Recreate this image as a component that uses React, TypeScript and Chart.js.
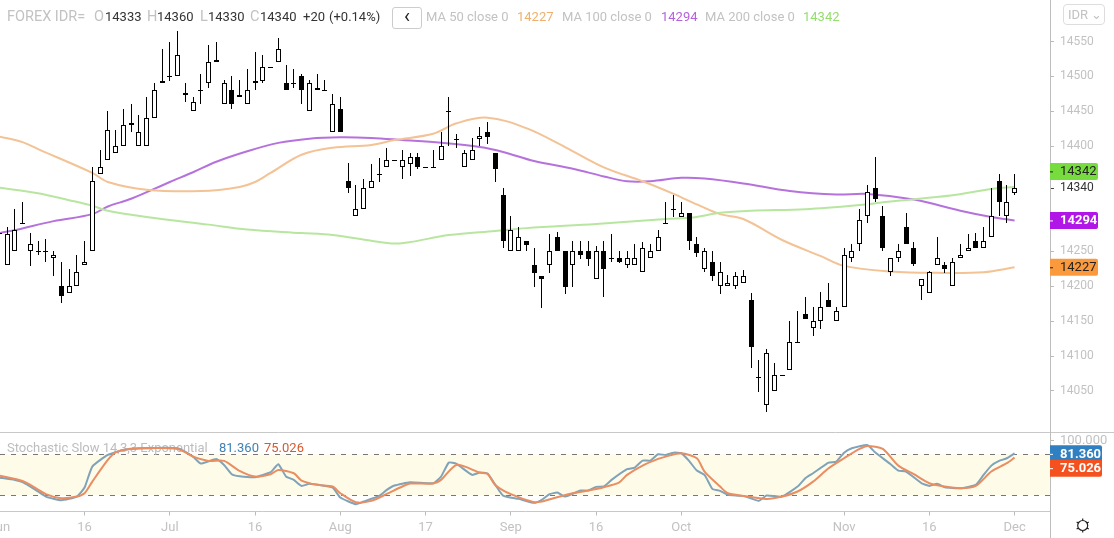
import React, { useEffect, useRef } from 'react';
import { Chart, registerables } from 'chart.js';

Chart.register(...registerables);

const FONT = 'Roboto, "Liberation Sans", sans-serif';
const GREY = '#c2c2c2';

// daily candles, index 0 = first bar of June
const opens = [
  14276, 14230, 14250, 14290, 14250, 14250, 14250, 14240, 14200, 14190, 14200, 14230,
  14250, 14360, 14380, 14390, 14400, 14430, 14400, 14400, 14440, 14490, 14500, 14500,
  14476, 14450, 14480, 14490, 14520, 14460, 14480, 14470, 14460, 14490, 14494, 14514,
  14520, 14490, 14490, 14500, 14450, 14480, 14480, 14420, 14454, 14350, 14300, 14310,
  14340, 14360, 14370, 14380, 14370, 14375, 14385, 14370, 14370, 14380, 14450, 14410,
  14370, 14380, 14410, 14420, 14390, 14330, 14250, 14250, 14264, 14230, 14214, 14230,
  14270, 14250, 14230, 14250, 14250, 14210, 14250, 14240, 14240, 14230, 14230, 14220,
  14240, 14250, 14290, 14310, 14299, 14304, 14260, 14224, 14234, 14200, 14200, 14200,
  14204, 14180, 14070, 14030, 14050, 14073, 14080, 14120, 14160, 14140, 14150, 14180,
  14150, 14170, 14240, 14260, 14300, 14340, 14300, 14220, 14240, 14284, 14254, 14200,
  14190, 14230, 14230, 14200, 14240, 14250, 14264, 14254, 14270, 14350, 14300, 14333,
];
const highs = [
  14277, 14284, 14310, 14320, 14276, 14265, 14267, 14250, 14235, 14225, 14245, 14265,
  14370, 14395, 14451, 14424, 14454, 14460, 14445, 14470, 14490, 14540, 14550, 14565,
  14490, 14470, 14504, 14545, 14549, 14495, 14500, 14495, 14510, 14535, 14530, 14514,
  14555, 14516, 14510, 14504, 14495, 14504, 14495, 14475, 14470, 14376, 14344, 14354,
  14375, 14384, 14397, 14380, 14395, 14390, 14390, 14370, 14395, 14420, 14470, 14417,
  14395, 14412, 14428, 14435, 14390, 14341, 14300, 14284, 14264, 14254, 14214, 14274,
  14277, 14250, 14264, 14264, 14264, 14257, 14264, 14274, 14250, 14250, 14260, 14263,
  14260, 14280, 14320, 14330, 14320, 14304, 14270, 14254, 14250, 14234, 14216, 14220,
  14223, 14190, 14094, 14110, 14090, 14073, 14150, 14164, 14184, 14170, 14191, 14204,
  14170, 14254, 14261, 14310, 14344, 14385, 14315, 14240, 14260, 14304, 14263, 14210,
  14221, 14270, 14234, 14240, 14260, 14274, 14276, 14284, 14340, 14360, 14344, 14360,
];
const lows = [
  14275, 14230, 14250, 14290, 14229, 14244, 14234, 14214, 14176, 14190, 14200, 14230,
  14250, 14360, 14380, 14390, 14400, 14420, 14400, 14400, 14440, 14490, 14494, 14500,
  14464, 14450, 14460, 14483, 14520, 14460, 14454, 14470, 14460, 14480, 14490, 14514,
  14520, 14480, 14483, 14460, 14450, 14480, 14480, 14420, 14420, 14333, 14300, 14310,
  14340, 14349, 14370, 14380, 14353, 14357, 14367, 14370, 14370, 14380, 14400, 14397,
  14370, 14380, 14400, 14403, 14349, 14254, 14250, 14250, 14250, 14199, 14169, 14219,
  14250, 14189, 14199, 14239, 14229, 14210, 14184, 14234, 14233, 14226, 14230, 14220,
  14240, 14250, 14290, 14299, 14299, 14252, 14241, 14220, 14208, 14189, 14200, 14196,
  14204, 14083, 14049, 14020, 14050, 14073, 14080, 14120, 14153, 14129, 14138, 14170,
  14150, 14170, 14234, 14250, 14290, 14320, 14250, 14214, 14235, 14260, 14229, 14180,
  14190, 14230, 14219, 14200, 14240, 14250, 14254, 14254, 14270, 14300, 14290, 14330,
];
const closes = [
  14276, 14274, 14280, 14290, 14260, 14250, 14250, 14244, 14186, 14200, 14220, 14234,
  14350, 14370, 14424, 14400, 14430, 14434, 14420, 14440, 14480, 14494, 14500, 14530,
  14474, 14464, 14480, 14520, 14524, 14490, 14461, 14474, 14480, 14494, 14514, 14514,
  14540, 14480, 14490, 14480, 14490, 14484, 14480, 14460, 14420, 14340, 14310, 14340,
  14350, 14360, 14380, 14380, 14380, 14385, 14370, 14370, 14370, 14400, 14450, 14410,
  14390, 14395, 14415, 14414, 14367, 14264, 14280, 14270, 14259, 14219, 14210, 14250,
  14250, 14199, 14250, 14244, 14239, 14250, 14224, 14240, 14234, 14240, 14240, 14254,
  14250, 14270, 14290, 14310, 14304, 14264, 14247, 14250, 14214, 14220, 14204, 14214,
  14214, 14113, 14070, 14104, 14073, 14073, 14120, 14120, 14153, 14150, 14170, 14170,
  14164, 14244, 14250, 14294, 14334, 14324, 14254, 14240, 14250, 14260, 14232, 14210,
  14220, 14240, 14224, 14234, 14244, 14254, 14254, 14264, 14300, 14320, 14320, 14340,
];

// moving averages as [bar index, value]
const ma50 = [
  [0, 14414], [3, 14406], [5, 14396], [12, 14362], [14, 14349], [19, 14338], [26, 14336], [31, 14342],
  [33, 14349], [35, 14362], [39, 14388], [43, 14398], [48, 14402], [51, 14409], [56, 14418], [59, 14433],
  [63, 14441], [68, 14426], [73, 14399], [78, 14370], [83, 14350], [87, 14332], [90, 14317], [93, 14303],
  [96, 14296], [101, 14266], [106, 14243], [109, 14229], [115, 14221], [121, 14219], [127, 14220], [131, 14227],
];
const ma100 = [
  [0, 14276], [2, 14280], [7, 14293], [12, 14303], [14, 14314], [17, 14325], [22, 14349], [25, 14363],
  [28, 14378], [32, 14393], [36, 14405], [40, 14411], [44, 14413], [48, 14412], [52, 14409], [57, 14405],
  [62, 14399], [65, 14392], [69, 14379], [74, 14368], [78, 14357], [81, 14350], [84, 14350], [88, 14355],
  [91, 14354], [96, 14347], [102, 14336], [108, 14331], [112, 14332], [118, 14324], [124, 14308], [128, 14299],
  [131, 14294],
];
const ma200 = [
  [0, 14341], [5, 14333], [9, 14323], [12, 14315], [14, 14308], [19, 14299], [27, 14288], [32, 14281],
  [39, 14276], [43, 14273], [48, 14265], [51, 14261], [53, 14263], [58, 14273], [64, 14279], [68, 14283],
  [77, 14289], [86, 14296], [90, 14299], [93, 14305], [97, 14308], [104, 14310], [111, 14316], [115, 14321],
  [123, 14330], [128, 14339], [131, 14342],
];

// stochastic slow, [bar index, value]
const stochK = [
  [0, 45.9], [2, 42.5], [3, 39.1], [5, 25.5], [6, 18.1], [8, 12.8], [10, 18.1], [11, 31.3], [12, 62], [14, 79],
  [16, 86.3], [18, 88.8], [23, 88.8], [25, 76.6], [26, 66.4], [28, 73.2], [29, 64.4], [30, 50.8], [31, 47.9], [33, 46.4],
  [35, 53.7], [36, 65.4], [37, 47.4], [38, 42.5], [39, 33.7], [40, 36.7], [43, 31.3], [44, 16.7], [46, 7], [47, 10.8],
  [49, 19.1], [50, 27.9], [51, 34.2], [53, 39.1], [56, 37.6], [57, 47.4], [58, 67.8], [59, 65.9], [61, 49.8], [62, 53.2],
  [63, 51.8], [64, 35.2], [65, 19.6], [67, 14.7], [69, 8.9], [70, 13.3], [71, 21.6], [72, 24], [73, 18.1], [75, 26.9],
  [76, 26.9], [77, 32.3], [78, 32.8], [79, 42.5], [81, 58.1], [82, 60.5], [83, 70.7], [84, 70.7], [85, 80], [86, 79],
  [87, 82.4], [88, 81.5], [89, 70.3], [90, 56.1], [91, 49.8], [92, 29.4], [93, 26.4], [94, 20.6], [96, 19.1], [98, 11.8],
  [99, 19.6], [101, 18.1], [103, 32.8], [104, 44.9], [105, 52.2], [107, 67.8], [108, 69.3], [109, 82.4], [110, 88.8], [112, 93.6],
  [113, 82.9], [115, 65.4], [116, 56.1], [117, 54.7], [119, 37.6], [120, 33.7], [121, 36.7], [122, 31.8], [124, 30.3], [126, 35.2],
  [127, 49.8], [128, 63.4], [129, 70.3], [130, 74.2], [131, 81.36],
];
const stochD = [
  [0, 48.8], [3, 41], [4, 35.2], [6, 21.6], [8, 15.7], [10, 18.1], [11, 23], [12, 40], [14, 71.7], [15, 82.9],
  [17, 87.8], [23, 87.8], [25, 76.6], [27, 70.3], [29, 70.3], [31, 55.7], [33, 47.4], [35, 50.8], [36, 57.1], [38, 52.2],
  [39, 41.5], [41, 35.2], [43, 32.8], [44, 23], [46, 9.9], [48, 11.8], [50, 22], [52, 32.8], [53, 37.1], [56, 37.1],
  [57, 42.5], [59, 64.4], [62, 53.2], [63, 51.3], [64, 35.2], [66, 21.6], [69, 9.9], [70, 10.8], [72, 17.2], [74, 23],
  [76, 26.9], [78, 31.8], [80, 39], [81, 49.8], [83, 63.4], [85, 73.2], [86, 76.6], [88, 81.5], [90, 74.2], [91, 54.7],
  [93, 32.8], [94, 23], [96, 19.1], [99, 14.7], [101, 18.1], [103, 25.5], [105, 40], [107, 59.5], [109, 74.2], [111, 87.8],
  [112, 92.2], [114, 87.8], [116, 63.4], [118, 50.8], [120, 37.6], [122, 32.8], [124, 30.3], [126, 33.7], [128, 54.7], [130, 66.9],
  [131, 75.026],
];

const priceTicks = [14050, 14100, 14150, 14200, 14250, 14340, 14400, 14450, 14500, 14550];
const stochTicks = [100];
const dateTickBars = [0, 11, 22, 33, 44, 55, 66, 77, 88, 109, 120, 131];
const dateTickLabels = ['Jun', '16', 'Jul', '16', 'Aug', '17', 'Sep', '16', 'Oct', 'Nov', '16', 'Dec'];

const asPoints = (rows: number[][]) => rows.map(([x, y]) => ({ x, y }));

// bars land on whole pixels, the source chart has no blurred candles
const snapBars = {
  id: 'snapBars',
  afterDatasetsUpdate(chart: any) {
    chart.data.datasets.forEach((ds: any, i: number) => {
      if (ds.type === 'line') return;
      chart.getDatasetMeta(i).data.forEach((el: any) => {
        el.x = Math.floor(el.x) + 0.5;
        const top = Math.round(Math.min(el.y, el.base));
        let bottom = Math.round(Math.max(el.y, el.base));
        if (bottom === top) bottom = top + 1;
        el.y = top;
        el.base = bottom;
        el.height = bottom - top;
      });
    });
  },
};

const axisLine = {
  id: 'axisLine',
  afterDraw(chart: any) {
    const ctx = chart.ctx;
    ctx.save();
    ctx.strokeStyle = '#bdbdbd';
    ctx.beginPath();
    ctx.moveTo(chart.chartArea.right + 0.5, 0);
    ctx.lineTo(chart.chartArea.right + 0.5, chart.height);
    ctx.stroke();
    ctx.restore();
  },
};

function drawBadge(chart: any, y: number, text: string, bg: string, fg: string, w: number, bold: boolean) {
  const ctx = chart.ctx;
  const x = chart.chartArea.right;
  ctx.save();
  ctx.fillStyle = bg;
  ctx.beginPath();
  ctx.roundRect(x, y - 8.5, w, 17, [0, 2, 2, 0]);
  ctx.fill();
  ctx.fillStyle = fg;
  ctx.font = `${bold ? 'bold ' : ''}13px ${FONT}`;
  ctx.textBaseline = 'middle';
  ctx.textAlign = 'left';
  ctx.fillText(text, x + 10, y + 0.5);
  ctx.fillRect(x, y, 3, 1);
  ctx.restore();
}

const priceBadges = {
  id: 'priceBadges',
  afterDraw(chart: any) {
    const y = chart.scales.y;
    drawBadge(chart, y.getPixelForValue(14342) - 15.5, '14342', '#77dd3f', '#222', 48, false);
    drawBadge(chart, y.getPixelForValue(14294), '14294', '#b016e6', '#fff', 48, true);
    drawBadge(chart, y.getPixelForValue(14227), '14227', '#fb9a3c', '#222', 48, false);
  },
};

const stochPanel = {
  id: 'stochPanel',
  beforeDatasetsDraw(chart: any) {
    const { ctx, chartArea: area, scales } = chart;
    const hi = scales.y.getPixelForValue(80);
    const lo = scales.y.getPixelForValue(20);
    ctx.save();
    ctx.fillStyle = '#fffbe9';
    ctx.fillRect(area.left, hi, area.right - area.left, lo - hi);
    ctx.strokeStyle = '#777';
    ctx.setLineDash([5, 6]);
    [hi, lo].forEach((py: number) => {
      ctx.beginPath();
      ctx.moveTo(area.left, Math.round(py) + 0.5);
      ctx.lineTo(area.right, Math.round(py) + 0.5);
      ctx.stroke();
    });
    ctx.setLineDash([]);
    ctx.strokeStyle = '#c8c8c8';
    ctx.beginPath();
    ctx.moveTo(0, 0.5);
    ctx.lineTo(chart.width, 0.5);
    ctx.stroke();
    ctx.font = `13px ${FONT}`;
    ctx.textBaseline = 'middle';
    ctx.fillStyle = '#bdbdbd';
    ctx.fillText('Stochastic Slow 14,3,3 Exponential', 7, 17);
    ctx.fillStyle = '#3f81b3';
    ctx.fillText('81.360', 219, 17);
    ctx.fillStyle = '#d55a2e';
    ctx.fillText('75.026', 264, 17);
    ctx.restore();
  },
  afterDraw(chart: any) {
    const y = chart.scales.y;
    drawBadge(chart, y.getPixelForValue(81.36) + 0.5, '81.360', '#2f7fc1', '#fff', 52, true);
    drawBadge(chart, y.getPixelForValue(75.026) + 10.5, '75.026', '#f4511e', '#fff', 52, true);
    // settings icon
    const { ctx } = chart;
    ctx.save();
    ctx.strokeStyle = '#222';
    ctx.lineWidth = 1.2;
    ctx.translate(1082.7, 93.5);
    ctx.beginPath();
    ctx.arc(0, 0, 5, 0, Math.PI * 2);
    for (let k = 0; k < 6; k++) {
      const a = (k * Math.PI) / 3 + Math.PI / 2;
      ctx.moveTo(Math.cos(a) * 5, Math.sin(a) * 5);
      ctx.lineTo(Math.cos(a) * 7, Math.sin(a) * 7);
    }
    ctx.stroke();
    ctx.restore();
  },
};

const xRange = { min: 0.09, max: 135.57 };

function zeroPadding(scale: any) {
  scale.paddingLeft = 0;
  scale.paddingRight = 0;
  scale.paddingTop = 0;
  scale.paddingBottom = 0;
}

function App() {
  const priceRef = useRef<HTMLCanvasElement>(null);
  const stochRef = useRef<HTMLCanvasElement>(null);

  useEffect(() => {
    if (!priceRef.current || !stochRef.current) return;

    const maLine = (rows: number[][], color: string) => ({
      type: 'line' as const,
      data: asPoints(rows),
      borderColor: color,
      borderWidth: 2,
      pointRadius: 0,
      tension: 0.35,
      order: 3,
    });

    const priceChart = new Chart(priceRef.current, {
      type: 'bar',
      data: {
        datasets: [
          maLine(ma200, '#b8e6a0'),
          maLine(ma50, '#f3c295'),
          maLine(ma100, '#b672dc'),
          {
            data: highs.map((h, i) => ({ x: i, y: [lows[i], h] })),
            backgroundColor: '#000',
            barThickness: 1,
            borderWidth: 0,
            inflateAmount: 0,
            grouped: false,
            order: 2,
          },
          {
            data: opens.map((o, i) => ({ x: i, y: [o, closes[i]] })),
            backgroundColor: opens.map((o, i) => (closes[i] < o ? '#000' : '#fff')),
            borderColor: '#000',
            borderWidth: 1,
            borderSkipped: false,
            barThickness: 5,
            inflateAmount: 0,
            grouped: false,
            order: 1,
          },
        ],
      } as any,
      options: {
        responsive: false,
        animation: false,
        devicePixelRatio: 1,
        events: [],
        layout: { padding: 0 },
        plugins: { legend: { display: false }, tooltip: { enabled: false } },
        scales: {
          x: { type: 'linear', ...xRange, display: false, offset: false, grid: { offset: false }, afterFit: zeroPadding },
          y: {
            position: 'right',
            min: 13991.3,
            max: 14609.4,
            border: { display: false },
            grid: {
              drawOnChartArea: false,
              tickLength: 4,
              color: (c: any) => (c.tick?.value === 14340 ? '#444' : '#bbb'),
            },
            ticks: {
              padding: 6,
              color: (c: any) => (c.tick?.value === 14340 ? '#333' : GREY),
              font: { family: FONT, size: 12 },
              callback: (v: any) => String(v),
            },
            afterBuildTicks: (axis: any) => {
              axis.ticks = priceTicks.map((value) => ({ value }));
            },
            afterFit: (axis: any) => {
              axis.width = 64;
              zeroPadding(axis);
            },
          },
        },
      } as any,
      plugins: [snapBars, axisLine, priceBadges],
    });

    const stochChart = new Chart(stochRef.current, {
      type: 'line',
      data: {
        datasets: [
          { data: asPoints(stochK), borderColor: '#7fa3b8', borderWidth: 2, pointRadius: 0, tension: 0.15, order: 2 },
          { data: asPoints(stochD), borderColor: '#e98d62', borderWidth: 2, pointRadius: 0, tension: 0.25, order: 1 },
        ],
      } as any,
      options: {
        responsive: false,
        animation: false,
        devicePixelRatio: 1,
        events: [],
        layout: { padding: 0 },
        plugins: { legend: { display: false }, tooltip: { enabled: false } },
        scales: {
          x: {
            type: 'linear',
            ...xRange,
            border: { color: '#c8c8c8' },
            grid: { drawOnChartArea: false, tickLength: 4, color: '#bbb' },
            ticks: {
              padding: 4,
              autoSkip: false,
              maxRotation: 0,
              color: GREY,
              font: { family: FONT, size: 13 },
              callback: (v: any) => dateTickLabels[dateTickBars.indexOf(v)],
            },
            afterBuildTicks: (axis: any) => {
              axis.ticks = dateTickBars.map((value) => ({ value }));
            },
            afterFit: (axis: any) => {
              axis.height = 26.5;
              zeroPadding(axis);
            },
          },
          y: {
            position: 'right',
            min: -3.75,
            max: 112.6,
            border: { display: false },
            grid: { drawOnChartArea: false, tickLength: 4, color: '#bbb' },
            ticks: {
              padding: 6,
              color: GREY,
              font: { family: FONT, size: 13 },
              callback: (v: any) => Number(v).toFixed(3),
            },
            afterBuildTicks: (axis: any) => {
              axis.ticks = stochTicks.map((value) => ({ value }));
            },
            afterFit: (axis: any) => {
              axis.width = 64;
              zeroPadding(axis);
            },
          },
        },
      } as any,
      plugins: [axisLine, stochPanel],
    });

    return () => {
      priceChart.destroy();
      stochChart.destroy();
    };
  }, []);

  const label = (left: number, text: string, color: string, fontSize = 13) => (
    <span style={{ position: 'absolute', left, top: 9, color, fontSize, whiteSpace: 'nowrap' }}>{text}</span>
  );

  return (
    <div style={{ position: 'fixed', left: 0, top: 0, width: 1114, height: 538, overflow: 'hidden', background: '#fff', font: `13px ${FONT}`, lineHeight: '16px' }}>
      <canvas ref={priceRef} width={1114} height={432} style={{ position: 'absolute', left: 0, top: 0, display: 'block' }} />
      <canvas ref={stochRef} width={1114} height={106} style={{ position: 'absolute', left: 0, top: 432, display: 'block' }} />
      {label(7, 'FOREX IDR=', GREY, 14.5)}
      {label(94, 'O', GREY, 14.5)}
      {label(105, '14333', '#333')}
      {label(147, 'H', GREY, 14.5)}
      {label(157, '14360', '#333')}
      {label(200, 'L', GREY, 14.5)}
      {label(208, '14330', '#333')}
      {label(250, 'C', GREY, 14.5)}
      {label(260, '14340', '#333')}
      {label(303, '+20', '#333')}
      {label(329, '(+0.14%)', '#333')}
      <div style={{ position: 'absolute', left: 392, top: 7, width: 28, height: 20, border: '1px solid #ccc', borderRadius: 3, textAlign: 'center', color: '#222', lineHeight: '17px', fontSize: 20 }}>‹</div>
      {label(426, 'MA 50 close 0', GREY)}
      {label(517, '14227', '#eeb06c')}
      {label(562, 'MA 100 close 0', GREY)}
      {label(661, '14294', '#b462dc')}
      {label(705, 'MA 200 close 0', GREY)}
      {label(803, '14342', '#94de6c')}
      <div style={{ position: 'absolute', left: 1063, top: 4, width: 36, height: 19, border: '1px solid #ddd', borderRadius: 4, color: GREY, lineHeight: '19px', paddingLeft: 4, boxSizing: 'content-box', fontSize: 13, whiteSpace: 'nowrap' }}>IDR ⌄</div>
    </div>
  );
}

export default App;
